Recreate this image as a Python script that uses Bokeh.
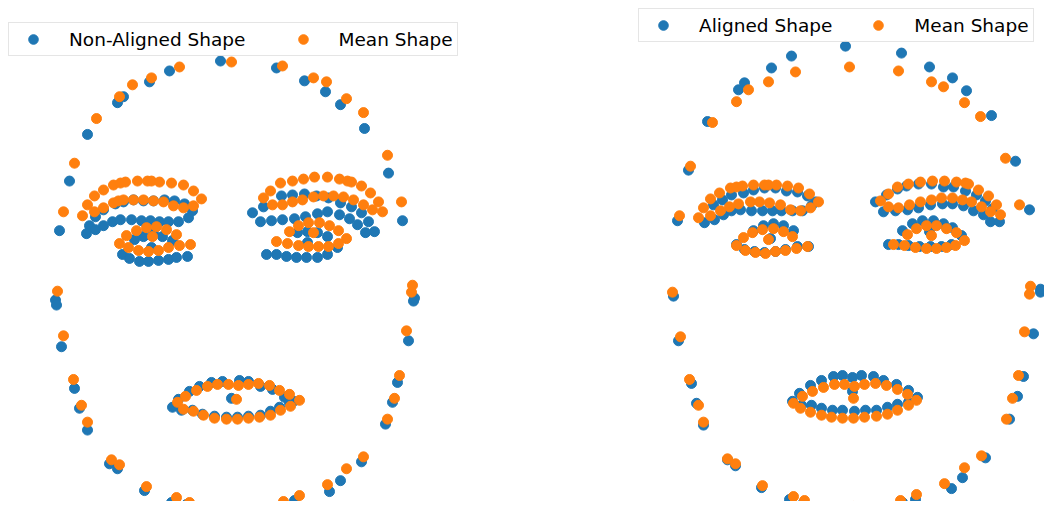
from bokeh.plotting import figure
from bokeh.layouts import row
from bokeh.models import Range1d
from bokeh.embed import file_html
from bokeh.resources import INLINE

# Landmark coordinates (image units, y grows downward)
left_nonaligned = [
    (69,182),(59,232),(55,302),(56,307),(61,349),(74,391),(79,411),(87,433),(109,467),(117,472),
    (144,494),(171,506),(186,508),(231,513),(281,509),(294,504),(329,495),(340,484),(361,465),
    (385,427),(392,405),(397,385),(408,343),(413,303),(414,300),(402,222),(388,174),(364,129),
    (340,105),(325,92),(304,81),(276,68),(220,61),(169,71),(149,82),(123,97),(117,103),(87,135),
    (95,218),(103,211),(115,205),(123,203),(133,201),(143,202),(153,202),(164,201),(174,202),
    (184,205),(192,212),
    (89,227),(95,231),(103,227),(112,223),(120,221),(131,221),(141,222),(150,222),(159,223),
    (168,223),(178,223),(188,219),(86,235),
    (134,241),(143,238),(153,235),(162,238),(172,242),
    (122,256),(129,260),(139,263),(148,263),(158,262),(168,261),(176,259),(187,258),(151,249),
    (252,214),(263,208),(281,197),(292,196),(304,195),(316,197),(328,199),(340,204),(351,208),
    (361,214),(368,223),
    (260,223),(271,222),(282,221),(294,220),(305,218),(317,215),(327,213),(339,216),(349,220),
    (357,226),(365,234),(374,233),
    (297,234),(307,233),(317,234),(327,238),(337,249),
    (266,256),(276,256),(286,258),(296,259),(306,259),(317,259),(327,256),(307,244),
    (172,410),(178,402),(189,394),(199,389),(211,385),(222,384),(239,383),(248,384),(260,389),
    (272,392),(284,400),(293,404),
    (181,413),(192,413),(202,417),(214,419),(226,420),(237,420),(248,419),(260,418),(270,414),
    (279,410),(289,406),(231,401),
]

left_mean = [
    (74,164),(63,213),(57,293),(63,338),(73,382),(81,408),(87,425),(111,463),(119,468),(146,490),
    (176,501),(189,506),(237,512),(283,505),(299,499),(327,488),(346,472),(363,460),(387,422),
    (394,401),(399,378),(406,333),(411,294),(412,287),(401,203),(387,156),(363,113),(346,99),
    (326,82),(313,78),(282,66),(231,62),(179,67),(151,78),(132,85),(119,97),(96,119),
    (94,197),(103,191),(113,186),(120,184),(125,183),(137,182),(147,182),(151,182),(159,183),
    (171,184),(183,186),(193,192),(201,200),
    (87,206),(94,213),(103,209),(113,204),(118,202),(123,201),(133,201),(143,201),(153,202),
    (163,203),(173,207),(183,209),(193,207),(82,217),
    (126,237),(136,232),(146,229),(156,228),(166,231),(176,236),
    (119,245),(128,249),(138,252),(148,253),(158,252),(168,249),(179,247),(190,246),(152,238),
    (270,192),(280,184),(292,182),(303,180),(314,178),(327,178),(339,180),(347,182),(351,183),
    (361,187),(370,194),(378,203),(382,213),
    (263,199),(272,206),(282,206),(292,203),(302,201),(313,198),(323,197),(333,197),(343,198),
    (353,201),(363,206),(372,211),
    (289,233),(298,227),(308,224),(319,224),(329,227),(338,232),(346,240),
    (276,243),(287,245),(298,247),(308,248),(318,248),(328,248),(338,245),(313,234),
    (177,405),(185,399),(196,393),(207,389),(217,387),(228,387),(238,388),(248,387),(258,386),
    (269,388),(279,393),(289,397),(299,403),
    (183,412),(193,414),(203,418),(214,421),(226,422),(237,422),(248,421),(259,420),(270,418),
    (280,413),(290,409),(236,402),
]

right_aligned = [
    (688,171),(677,222),(673,298),(678,343),(691,386),(696,406),(703,428),(727,463),(735,469),
    (761,491),(789,503),(803,506),(850,511),(902,506),(915,503),(951,492),(962,481),(985,461),
    (1009,422),(1017,399),(1023,379),(1033,336),(1040,294),(1040,291),(1029,211),(1015,162),
    (991,116),(966,91),(952,78),(929,67),(901,53),(845,46),(791,56),(771,68),(744,83),(738,90),
    (707,122),
    (713,206),(722,201),(731,196),(743,194),(753,191),(764,189),(775,189),(786,192),(797,193),
    (807,197),(815,203),
    (704,224),(714,221),(723,216),(731,212),(740,211),(751,212),(762,212),(772,212),(781,212),
    (792,212),(802,212),(811,207),
    (753,232),(763,227),(773,225),(783,227),(793,232),
    (736,246),(744,251),(754,253),(764,254),(775,253),(785,251),(797,248),(808,248),(770,240),
    (875,203),(886,196),(897,190),(906,187),(918,185),(931,185),(943,188),(953,188),(965,192),
    (976,196),(985,202),(992,210),
    (883,213),(895,212),(907,211),(918,209),(930,206),(942,205),(952,205),(963,207),(973,212),
    (983,216),(990,223),(999,223),
    (902,232),(912,225),(922,222),(933,222),(943,225),(952,229),(961,237),
    (888,246),(898,246),(908,247),(919,248),(930,248),(941,248),(951,246),(929,233),
    (792,404),(799,396),(810,388),(821,383),(833,379),(842,378),(852,380),(861,378),(873,379),
    (883,383),(896,387),(908,393),(917,400),
    (801,408),(811,408),(821,411),(832,413),(842,413),(854,414),(865,413),(876,413),(887,410),
    (897,407),(908,405),(852,394),
]

right_mean = [
    (690,167),(679,217),(672,294),(680,339),(689,382),(698,408),(703,425),(727,462),(735,467),
    (762,489),(793,500),(804,504),(853,510),(900,504),(916,498),(944,487),(964,471),(981,459),
    (1006,422),(1012,401),(1018,378),(1024,334),(1029,296),(1030,288),(1019,206),(1005,159),
    (980,117),(964,103),(943,87),(931,82),(898,71),(849,67),(795,72),(768,82),(748,90),(736,102),
    (712,123),
    (710,200),(719,194),(730,189),(736,188),(742,187),(753,186),(764,186),(768,186),(776,186),
    (787,187),(798,189),(809,195),(818,203),
    (698,219),(703,209),(710,217),(720,212),(729,208),(738,205),(750,203),(759,203),(769,204),
    (780,206),(790,211),(800,212),(810,209),
    (743,239),(752,234),(762,231),(773,230),(783,233),(792,238),
    (736,247),(745,252),(755,254),(765,255),(775,253),(785,252),(796,250),(807,248),(768,241),
    (888,195),(897,188),(908,185),(920,183),(932,182),(944,182),(956,183),(965,184),(968,185),
    (978,191),(988,197),(996,206),(1000,216),
    (880,202),(888,208),(898,209),(909,206),(920,203),(931,201),(941,199),(952,199),(962,201),
    (971,203),(981,208),(990,213),
    (907,236),(916,230),(926,227),(936,227),(946,230),(956,234),(964,242),
    (893,246),(904,247),(915,249),(926,250),(936,250),(946,249),(955,247),(931,237),
    (793,406),(802,399),(812,394),(823,390),(834,387),(844,387),(854,389),(864,387),(875,386),
    (886,388),(897,392),(907,397),(916,403),
    (800,411),(810,415),(821,418),(831,420),(842,421),(853,421),(864,420),(876,419),(887,417),
    (897,413),(908,408),(853,401),
]

BLUE = "#1f77b4"
ORANGE = "#ff7f0e"
W, H = 522, 501


def make_panel(x0, x1, series, legend_xy, spacing):
    p = figure(width=W, height=H, x_range=Range1d(x0, x1), y_range=Range1d(505, 0),
               x_axis_type=None, y_axis_type=None, toolbar_location=None,
               output_backend="svg", min_border=0, outline_line_color=None,
               background_fill_color="white", border_fill_color="white")
    for pts, color, label in series:
        xs = [a for a, b in pts]
        ys = [b for a, b in pts]
        p.scatter(xs, ys, size=10, fill_color=color, line_color=color, legend_label=label)
    leg = p.legend[0]
    leg.orientation = "horizontal"
    leg.location = legend_xy
    leg.padding = 4
    leg.margin = 0
    leg.spacing = spacing
    leg.glyph_width = 40
    leg.glyph_height = 24
    leg.label_height = 20
    leg.label_standoff = 16
    leg.label_text_font = "DejaVu Sans"
    leg.label_text_font_size = "18.5px"
    leg.label_text_color = "black"
    leg.border_line_color = "#cccccc"
    leg.border_line_width = 1
    leg.background_fill_color = "white"
    leg.background_fill_alpha = 0.8
    return p


p1 = make_panel(0, 522, [(left_nonaligned, BLUE, "Non-Aligned Shape"),
                         (left_mean, ORANGE, "Mean Shape")], (8, 445), 37)
p2 = make_panel(522, 1044, [(right_aligned, BLUE, "Aligned Shape"),
                            (right_mean, ORANGE, "Mean Shape")], (116, 459), 26)

layout = row(p1, p2, spacing=0)
open("out.html", "w").write(file_html(layout, INLINE))
